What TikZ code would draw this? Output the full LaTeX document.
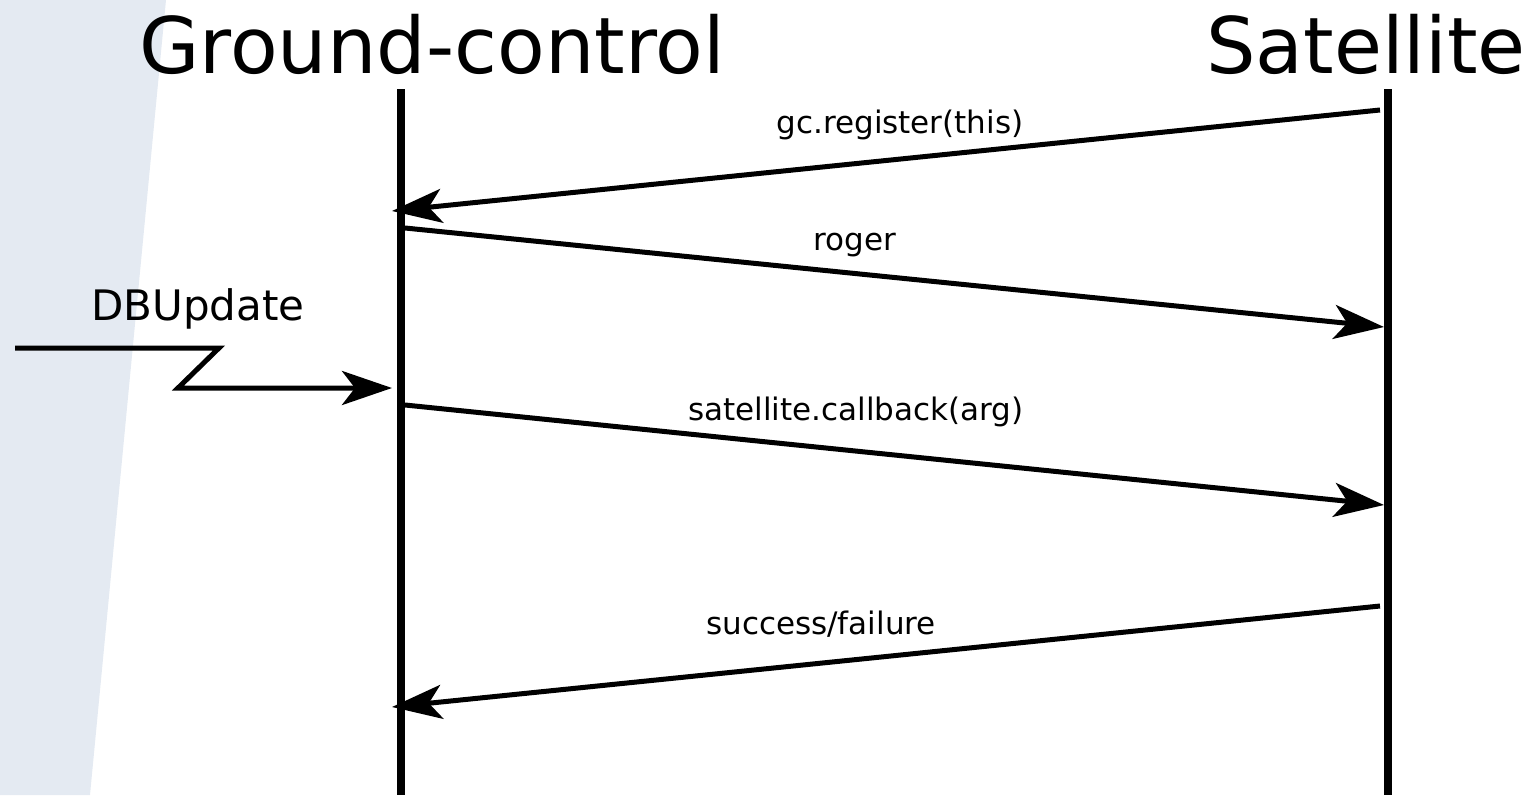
\documentclass[tikz,border=0pt]{standalone}
\usepackage{fontspec}
\setmainfont{DejaVu Sans}
\usetikzlibrary{arrows.meta}
\definecolor{bgpanel}{HTML}{E4EAF2}
\tikzset{
  lifeline/.style={line width=8.5pt},
  msg/.style={line width=5pt, -{Stealth[length=50pt,width=34pt,inset=13pt]}},
  title/.style={anchor=base, inner sep=0pt, font=\fontsize{78}{90}\selectfont},
  msglabel/.style={anchor=base, inner sep=0pt, font=\fontsize{31}{36}\selectfont},
  evlabel/.style={anchor=base, inner sep=0pt, font=\fontsize{42}{48}\selectfont},
}
\begin{document}
\begin{tikzpicture}[x=1pt,y=-1pt]
\useasboundingbox (0,0) rectangle (1530,795);
\fill[bgpanel] (0,0) -- (166,0) -- (90,795) -- (0,795) -- cycle;
% titles
\node[title] (gctitle) at (432,73) {Ground-control};
\node[title] (sattitle) at (1366,73) {Satellite};
% lifelines
\coordinate (gctop) at (401,89);
\coordinate (gcbot) at (401,795);
\coordinate (sattop) at (1388,89);
\coordinate (satbot) at (1388,795);
\draw[lifeline] (gctop) -- (gcbot);
\draw[lifeline] (sattop) -- (satbot);
% message endpoints
\coordinate (m1s) at (1380,110);
\coordinate (m1e) at (392,211);
\coordinate (m2s) at (405,228);
\coordinate (m2e) at (1384,327);
\coordinate (m3s) at (405,405);
\coordinate (m3e) at (1384,505);
\coordinate (m4s) at (1380,606);
\coordinate (m4e) at (392,707);
\draw[msg] (m1s) -- (m1e);
\draw[msg] (m2s) -- (m2e);
\draw[msg] (m3s) -- (m3e);
\draw[msg] (m4s) -- (m4e);
\node[msglabel] (l1) at (900,133) {gc.register(this)};
\node[msglabel] (l2) at (855,250) {roger};
\node[msglabel] (l3) at (856,420) {satellite.callback(arg)};
\node[msglabel] (l4) at (821,634) {success/failure};
% DBUpdate event
\coordinate (ev0) at (15,348);
\coordinate (ev1) at (219,348);
\coordinate (ev2) at (178,388);
\coordinate (ev3) at (392,388);
\draw[msg, line join=miter] (ev0) -- (ev1) -- (ev2) -- (ev3);
\node[evlabel] (evl) at (198,320) {DBUpdate};
\end{tikzpicture}
\end{document}
